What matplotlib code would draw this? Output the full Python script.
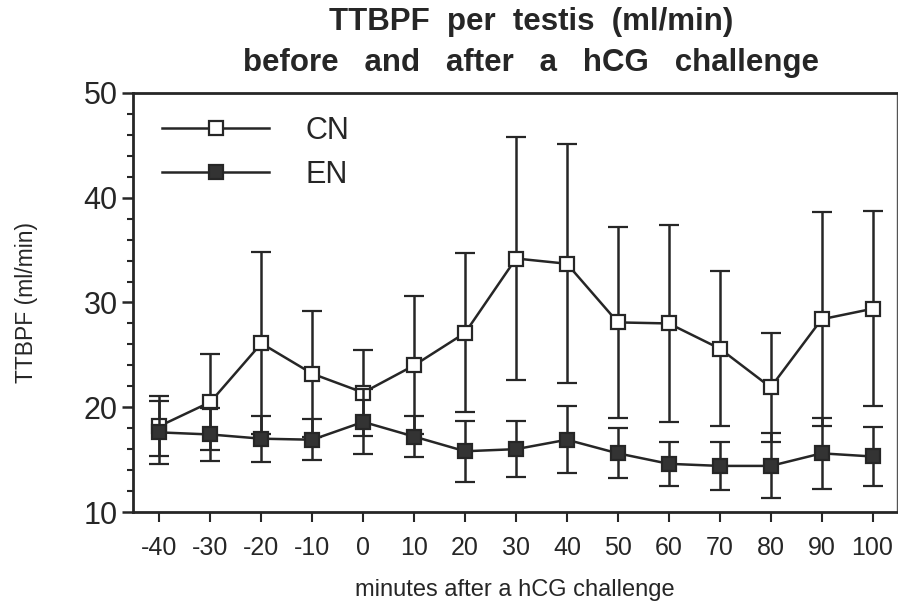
import numpy as np
import matplotlib
matplotlib.use("Agg")
import matplotlib.pyplot as plt
from matplotlib.ticker import MultipleLocator, FixedLocator

plt.rcParams["font.family"] = ["Liberation Sans", "DejaVu Sans"]

# ----------
#  DATA
# ----------
minutes = [-40, -30, -20, -10, 0, 10, 20, 30, 40, 50, 60, 70, 80, 90, 100]
tick_labels = ["-40", "-30", "-20", "-10", "0", "10", "20", "30", "40",
               "50", "60", "70", "80", "90", "100"]

cn_mean = [18.2, 20.5, 26.1, 23.2, 21.4, 24.0, 27.1, 34.2, 33.7, 28.1,
           28.0, 25.6, 21.9, 28.4, 29.4]
cn_sd = [2.9, 4.6, 8.7, 6.0, 4.1, 6.6, 7.6, 11.6, 11.4, 9.1,
         9.4, 7.4, 5.2, 10.2, 9.3]

en_mean = [17.6, 17.4, 17.0, 16.9, 18.6, 17.2, 15.8, 16.0, 16.9, 15.6,
           14.6, 14.4, 14.4, 15.6, 15.3]
en_sd = [3.0, 2.5, 2.2, 1.95, 3.1, 1.95, 2.9, 2.7, 3.2, 2.4,
         2.1, 2.3, 3.1, 3.4, 2.8]

# ----------
#  STYLE
# ----------
ink = "#262626"
W, H = 898, 604

fig = plt.figure(figsize=(W / 100, H / 100), dpi=100)
ax = fig.add_axes([133 / W, 1 - 512 / H, (897 - 133) / W, (512 - 93) / H])

common = dict(color=ink, lw=1.8, elinewidth=1.8, capsize=7, capthick=1.8,
              markersize=9.5, markeredgewidth=1.6, markeredgecolor=ink)
ax.errorbar(minutes, en_mean, yerr=en_sd, fmt="-s", markerfacecolor="#333333",
            label="EN", zorder=3, **common)
ax.errorbar(minutes, cn_mean, yerr=cn_sd, fmt="-s", markerfacecolor="white",
            label="CN", zorder=2, **common)

ax.set_xlim(-45.2, 104.8)
ax.set_ylim(10, 50)

ax.xaxis.set_major_locator(FixedLocator(minutes))
ax.set_xticklabels(tick_labels)
ax.yaxis.set_major_locator(MultipleLocator(10))
ax.yaxis.set_minor_locator(MultipleLocator(2))

ax.tick_params(axis="x", direction="out", length=7, width=1.5, color=ink,
               labelsize=18, pad=10, labelcolor=ink)
ax.tick_params(axis="y", which="major", direction="out", length=8, width=1.8,
               color=ink, labelsize=22, pad=3, labelcolor=ink)
ax.tick_params(axis="y", which="minor", direction="out", length=4.5, width=1.5,
               color=ink)

for side in ["left", "bottom", "top"]:
    ax.spines[side].set_linewidth(2.0)
    ax.spines[side].set_color(ink)
ax.spines["right"].set_linewidth(1.0)
ax.spines["right"].set_color("#555555")

ax.set_xlabel("minutes after a hCG challenge", fontsize=17, color=ink,
              labelpad=14)
ax.set_ylabel("TTBPF (ml/min)", fontsize=16.5, color=ink)
ax.yaxis.set_label_coords(-0.124, 0.5)

# legend: CN on top, EN below
handles, labels = ax.get_legend_handles_labels()
leg_handles = [h[0] for h in handles[::-1]]
ax.legend(leg_handles, labels[::-1], loc="upper left",
          bbox_to_anchor=(0.038, 0.945), frameon=False, fontsize=22,
          handlelength=3.5, handletextpad=1.2, labelspacing=0.45,
          borderpad=0, borderaxespad=0, labelcolor=ink)

fig.text(531 / W, 1 - 22 / H, "TTBPF  per  testis  (ml/min)", ha="center",
         va="center", fontsize=22.5, fontweight="bold", color=ink)
fig.text(531 / W, 1 - 63 / H, "before   and   after   a   hCG   challenge",
         ha="center", va="center", fontsize=22.5, fontweight="bold", color=ink)

fig.savefig("out.png", dpi=100)
